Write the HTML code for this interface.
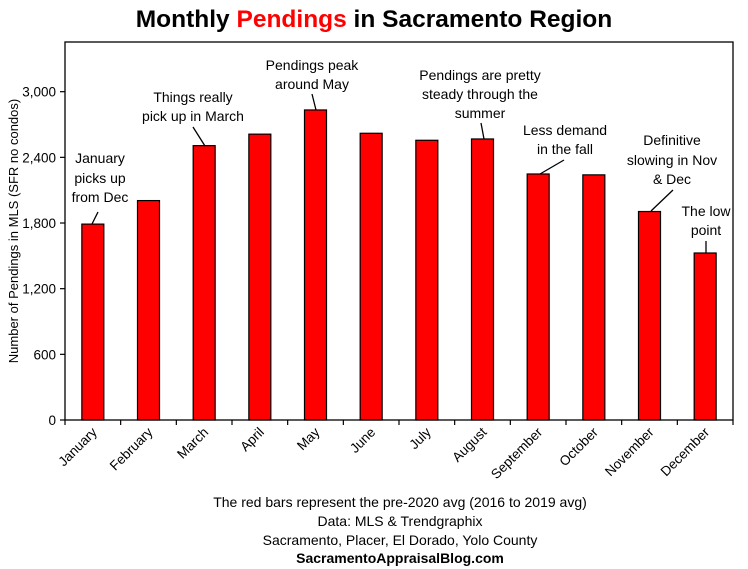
<!DOCTYPE html>
<html><head><meta charset="utf-8"><style>
body{margin:0;background:#fff}
svg{display:block;font-family:"Liberation Sans",sans-serif}
</style></head><body>
<svg id="chart" width="748" height="569" viewBox="0 0 748 569">
<text x="374" y="27" text-anchor="middle" font-size="24.5" font-weight="bold">Monthly <tspan fill="#ff0000">Pendings</tspan> in Sacramento Region</text>
<g id="plot"></g>
<g font-size="14" text-anchor="middle" stroke-width="1.3">
<text x="100" y="163">January</text><text x="100" y="183">picks up</text><text x="100" y="202">from Dec</text>
<line x1="98" y1="212" x2="92" y2="224" stroke="#000"/>
<text x="193" y="102">Things really</text><text x="193" y="121">pick up in March</text>
<line x1="193" y1="127" x2="205" y2="146" stroke="#000"/>
<text x="312" y="70">Pendings peak</text><text x="312" y="89">around May</text>
<line x1="312" y1="94" x2="316" y2="110" stroke="#000"/>
<text x="480" y="80">Pendings are pretty</text><text x="480" y="99">steady through the</text><text x="480" y="118">summer</text>
<line x1="481" y1="123" x2="484" y2="139" stroke="#000"/>
<text x="565" y="135">Less demand</text><text x="565" y="154">in the fall</text>
<line x1="564" y1="160" x2="540" y2="174" stroke="#000"/>
<text x="672" y="145">Definitive</text><text x="672" y="165">slowing in Nov</text><text x="672" y="184">&amp; Dec</text>
<line x1="673" y1="190" x2="651" y2="211" stroke="#000"/>
<text x="706" y="216">The low</text><text x="706" y="235">point</text>
<line x1="706" y1="241" x2="706" y2="253" stroke="#000"/>
</g>
<g font-size="14" text-anchor="middle">
<text x="400" y="507">The red bars represent the pre-2020 avg (2016 to 2019 avg)</text>
<text x="400" y="526">Data: MLS &amp; Trendgraphix</text>
<text x="400" y="545">Sacramento, Placer, El Dorado, Yolo County</text>
<text x="400" y="563" font-weight="bold" font-size="14">SacramentoAppraisalBlog.com</text>
</g>
<text transform="translate(18,231) rotate(-90)" text-anchor="middle" font-size="13">Number of Pendings in MLS (SFR no condos)</text>
</svg>
<script>
const categories=["January","February","March","April","May","June","July","August","September","October","November","December"];
const values=[1790,2005,2507,2612,2833,2620,2556,2568,2248,2240,1905,1526];
const yTicks=[0,600,1200,1800,2400,3000];
const yTickLabels=["0","600","1,200","1,800","2,400","3,000"];
const yMax=3454;
const L=65,R=733,T=42,B=420;
const bw=(R-L)/categories.length;
function y(v){return B-(v/yMax)*(B-T);}
function x(i){return L+bw*i;}
const NS="http://www.w3.org/2000/svg";
const g=document.getElementById('plot');
function mk(t,a){const e=document.createElementNS(NS,t);for(const k in a)e.setAttribute(k,a[k]);g.appendChild(e);return e;}
const frame=mk('rect',{x:L,y:T,width:R-L,height:B-T,fill:'none',stroke:'#000','stroke-width':1.3});


values.forEach((v,i)=>{
  const r=mk('rect',{x:x(i)+bw/2-11,y:y(v),width:22,height:B-y(v),fill:'#ff0000',stroke:'#000','stroke-width':1.2});
  
  
});
yTicks.forEach((t,i)=>{
  mk('line',{x1:L-5,x2:L,y1:y(t),y2:y(t),stroke:'#000','stroke-width':1.2});
  const tx=mk('text',{x:L-9,y:y(t)+5,'text-anchor':'end','font-size':13.5});
  tx.textContent=yTickLabels[i];
  
  
});
for(let i=0;i<=categories.length;i++){mk('line',{x1:x(i),x2:x(i),y1:B,y2:B+5,stroke:'#000','stroke-width':1.2});}
categories.forEach((c,i)=>{
  const cx=x(i)+bw/2+5,cy=B+13;
  const tx=mk('text',{x:cx,y:cy,'text-anchor':'end','font-size':13.5,transform:`rotate(-45 ${cx} ${cy})`});
  tx.textContent=c;
  
  
});
</script>
</body></html>
